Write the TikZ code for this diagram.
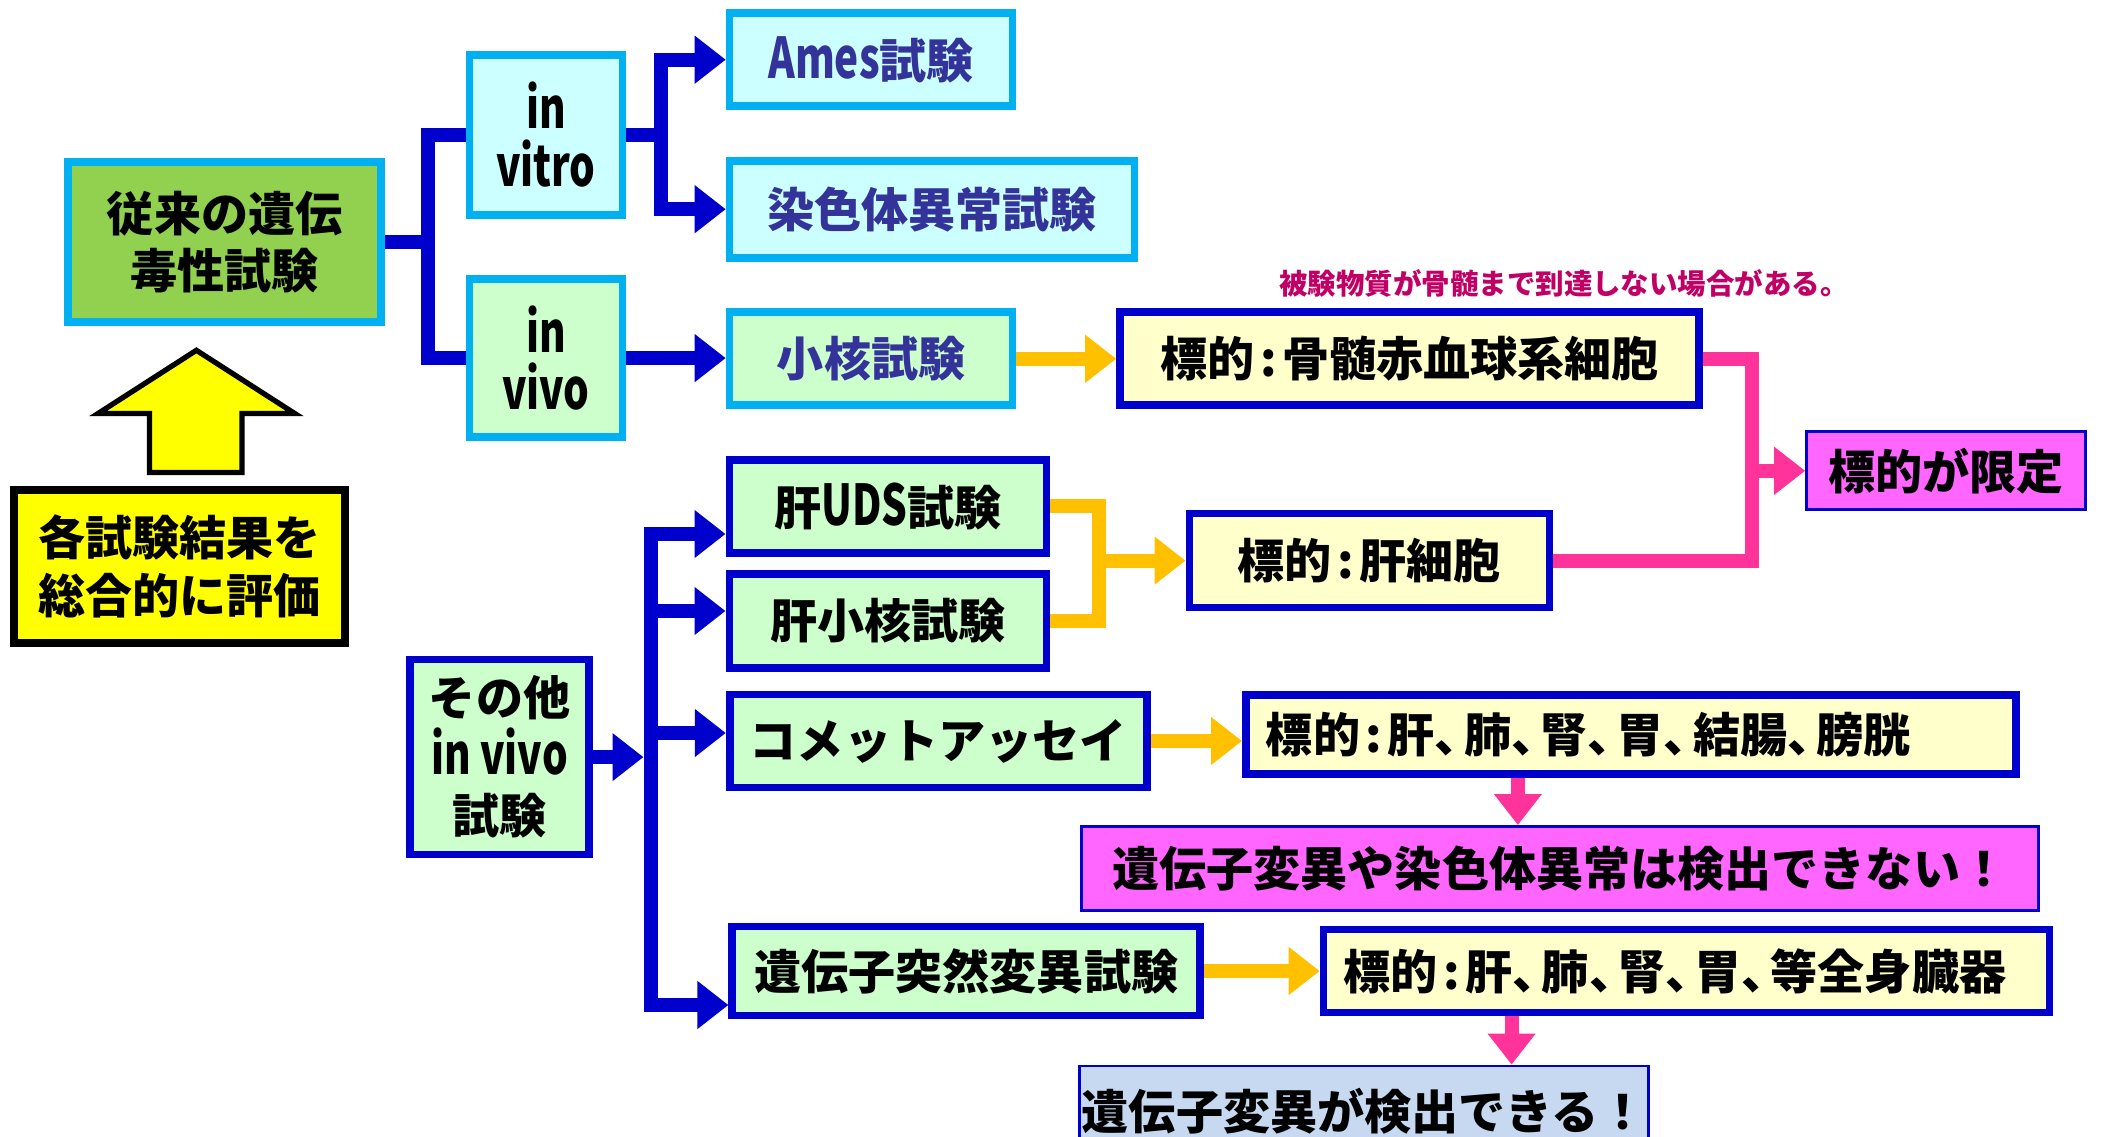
\documentclass[tikz,border=0pt]{standalone}
\usepackage{fontspec}
\newfontfamily\jp{Noto Sans CJK JP}
\newfontfamily\latf{Noto Sans CJK JP}[FakeStretch=0.72]
\usetikzlibrary{arrows.meta,calc}
\definecolor{cyb}{RGB}{0,176,240}
\definecolor{blu}{RGB}{0,0,204}
\definecolor{grn}{RGB}{146,208,80}
\definecolor{lcy}{RGB}{204,255,255}
\definecolor{lgr}{RGB}{204,255,204}
\definecolor{lye}{RGB}{255,255,204}
\definecolor{mag}{RGB}{255,102,255}
\definecolor{ora}{RGB}{255,192,0}
\definecolor{pnk}{RGB}{255,51,153}
\definecolor{yel}{RGB}{255,255,0}
\definecolor{lbl}{RGB}{198,217,241}
\definecolor{nvy}{RGB}{51,51,153}
\definecolor{notec}{RGB}{192,0,100}
\newcommand\jpb{\jp\bfseries\fontsize{13.4}{16.4}\selectfont}
\newcommand\lat[1]{{\latf\bfseries\fontsize{16}{16.4}\selectfont #1}}
\newcommand\tn{、\kern-0.38em}
\newcommand\tc{\kern0.12em:\kern0.12em}
\tikzset{
  box/.style={rectangle, inner sep=0pt, line width=2.2pt, align=center, font=\jpb},
  cybox/.style={box, draw=cyb},
  blbox/.style={box, draw=blu},
  thinbox/.style={box, draw=blu, line width=0.8pt},
  latbox/.style={font=\latf\bfseries\fontsize{16}{16.4}\selectfont},
  leftbox/.style={align=left, inner xsep=0.2cm},
  bline/.style={blu, line width=0.14cm},
  barrow/.style={bline, -{Triangle[length=0.31cm,width=0.46cm]}},
  oline/.style={ora, line width=0.14cm},
  oarrow/.style={oline, -{Triangle[length=0.31cm,width=0.46cm]}},
  pline/.style={pnk, line width=0.14cm},
  parrow/.style={pline, -{Triangle[length=0.31cm,width=0.46cm]}}
}
\begin{document}
\begin{tikzpicture}
\useasboundingbox (0,0) rectangle (21.03,-11.37);
\node [cybox, fill=grn, minimum width=3.13cm, minimum height=1.6cm] (main) at (2.247,-2.421) {従来の遺伝\\毒性試験};
\node [cybox, latbox, fill=lcy, minimum width=1.53cm, minimum height=1.6cm] (vitro) at (5.459,-1.348) {in\\vitro};
\node [cybox, latbox, fill=lgr, minimum width=1.53cm, minimum height=1.58cm] (vivo) at (5.459,-3.581) {in\\vivo};
\node [cybox, fill=lcy, text=nvy, minimum width=2.83cm, minimum height=0.93cm] (ames) at (8.711,-0.597) {\lat{Ames}試験};
\node [cybox, fill=lcy, text=nvy, minimum width=4.05cm, minimum height=0.97cm] (chrom) at (9.321,-2.092) {染色体異常試験};
\node [cybox, fill=lgr, text=nvy, minimum width=2.83cm, minimum height=0.93cm] (mn) at (8.711,-3.588) {小核試験};
\node [blbox, fill=lye, minimum width=5.79cm, minimum height=0.93cm] (tgtbm) at (14.096,-3.588) {標的\tc 骨髄赤血球系細胞};
\node [font=\jp\bfseries\fontsize{8.1}{9}\selectfont, text=notec] (note) at (15.64,-2.83) {被験物質が骨髄まで到達しない場合がある。};
\node [thinbox, fill=mag, minimum width=2.79cm, minimum height=0.78cm] (limited) at (19.461,-4.708) {標的が限定};
\node [blbox, fill=lgr, minimum width=3.17cm, minimum height=0.93cm] (uds) at (8.879,-5.063) {肝\lat{UDS}試験};
\node [blbox, fill=lgr, minimum width=3.17cm, minimum height=0.94cm] (lmn) at (8.879,-6.210) {肝小核試験};
\node [blbox, fill=lye, minimum width=3.60cm, minimum height=0.94cm] (tgtliv) at (13.694,-5.606) {標的\tc 肝細胞};
\node [blbox, fill=lgr, minimum width=1.79cm, minimum height=1.95cm, font=\jp\bfseries\fontsize{13.4}{16.8}\selectfont] (other) at (4.996,-7.571) {その他\\\lat{in vivo}\\試験};
\node [blbox, fill=lgr, minimum width=4.17cm, minimum height=0.93cm] (comet) at (9.382,-7.410) {コメットアッセイ};
\node [blbox, leftbox, fill=lye, text width=7.30cm, minimum height=0.79cm] (tgtorg) at (16.309,-7.343) {標的\tc 肝\tn 肺\tn 腎\tn 胃\tn 結腸\tn 膀胱};
\node [thinbox, fill=mag, minimum width=9.57cm, minimum height=0.84cm] (cannot) at (15.598,-8.684) {遺伝子変異や染色体異常は検出できない！};
\node [blbox, fill=lgr, minimum width=4.68cm, minimum height=0.89cm] (mut) at (9.663,-9.710) {遺伝子突然変異試験};
\node [blbox, leftbox, fill=lye, text width=6.86cm, minimum height=0.83cm] (tgtall) at (16.866,-9.710) {標的\tc 肝\tn 肺\tn 腎\tn 胃\tn 等全身臓器};
\node [thinbox, fill=lbl, minimum width=5.69cm, minimum height=0.9cm] (can) at (13.64,-11.11) {遺伝子変異が検出できる！};
\node [box, draw=black, line width=2pt, fill=yel, minimum width=3.31cm, minimum height=1.53cm] (eval) at (1.795,-5.665) {各試験結果を\\総合的に評価};
\filldraw [draw=black, fill=yel, line width=1.5pt] (1.964,-3.503) -- (2.946,-4.134) -- (2.42,-4.134) -- (2.42,-4.726) -- (1.494,-4.726) -- (1.494,-4.134) -- (0.982,-4.134) -- cycle;
\coordinate (j1) at (4.28,-2.421);
\draw [bline] (main.east) -- (j1);
\draw [bline] (vitro.west) -| (j1) |- (vivo.west);
\coordinate (j2) at (6.61,-1.348);
\draw [bline] (vitro.east) -- (j2);
\draw [barrow] (j2) |- (ames.west);
\draw [barrow] (j2) |- (chrom.west);
\draw [barrow] (vivo.east) -- (vivo.east -| mn.west);
\draw [oarrow] (mn.east) -- (tgtbm.west);
\coordinate (j3) at (10.99,-5.606);
\draw [oline] (uds.east) -| (j3) |- (lmn.east);
\draw [oarrow] (j3) -- (tgtliv.west);
\coordinate (j4) at (17.52,-4.708);
\draw [pline] (tgtbm.east) -| (j4) |- (tgtliv.east);
\draw [parrow] (j4) -- (limited.west);
\coordinate (b1) at (6.505,-5.34);
\coordinate (b2) at (6.505,-6.11);
\coordinate (b3) at (6.505,-7.33);
\coordinate (b4) at (6.505,-10.05);
\coordinate (bo) at (6.435,-7.571);
\draw [barrow] (other.east) -- (bo);
\draw [barrow] (b4) -- (b1) -- (b1 -| uds.west);
\draw [barrow] (b1) -- (b4) -- (b4 -| mut.west);
\draw [barrow] (b2) -- (b2 -| lmn.west);
\draw [barrow] (b3) -- (b3 -| comet.west);
\draw [oarrow] (comet.east) -- (comet.east -| tgtorg.west);
\coordinate (p1) at ($(tgtorg.south)+(-1.13,0)$);
\draw [parrow] (p1) -- (p1 |- cannot.north);
\draw [oarrow] (mut.east) -- (mut.east -| tgtall.west);
\coordinate (p2) at ($(tgtall.south)+(-1.75,0)$);
\draw [parrow] (p2) -- (p2 |- can.north);
\end{tikzpicture}
\end{document}
